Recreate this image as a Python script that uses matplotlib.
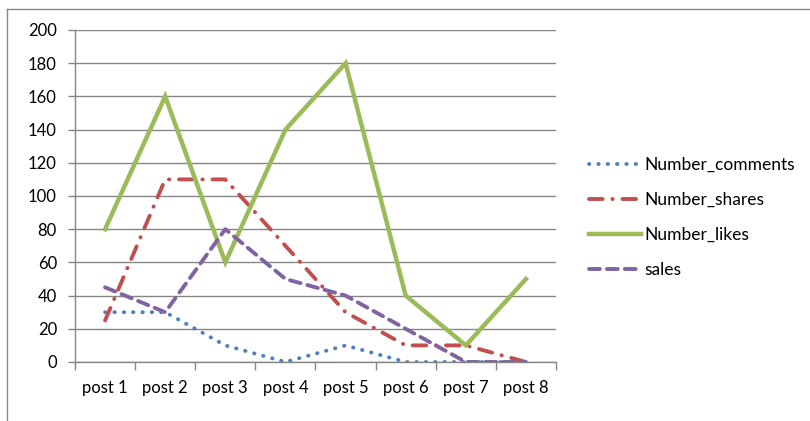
import matplotlib.pyplot as plt
from matplotlib.lines import Line2D
import numpy as np

posts = ['post 1', 'post 2', 'post 3', 'post 4', 'post 5', 'post 6', 'post 7', 'post 8']
number_comments = [30, 30, 10, 0, 10, 0, 0, 0]
number_shares = [25, 110, 110, 70, 30, 10, 10, 0]
number_likes = [80, 160, 60, 140, 180, 40, 10, 50]
sales = [45, 30, 80, 50, 40, 20, 0, 0]
y_ticks = list(range(0, 201, 20))

plt.rcParams['font.family'] = ['Lato', 'DejaVu Sans']

fig = plt.figure(figsize=(8.1, 4.21), dpi=100)
ax = fig.add_axes([75 / 810, 59 / 421, 481 / 810, 332 / 421])

x = np.arange(1, len(posts) + 1)
lw = 2.8
ax.plot(x, number_comments, color='#4F81BD', lw=lw, linestyle=(0, (0.1, 2.3)),
        dash_capstyle='round', label='Number_comments', zorder=3)
ax.plot(x, number_shares, color='#C0504D', lw=lw, linestyle=(0, (3.5, 2.5, 0.1, 2.5)),
        dash_capstyle='round', label='Number_shares', zorder=3)
ax.plot(x, number_likes, color='#9BBB59', lw=lw + 0.4, solid_joinstyle='miter',
        label='Number_likes', zorder=3)
ax.plot(x, sales, color='#8064A2', lw=lw, linestyle=(0, (2.8, 1.8)),
        dash_capstyle='round', label='sales', zorder=3)

ax.set_xlim(0.5, len(posts) + 0.5)
ax.set_ylim(0, 200)
ax.set_yticks(y_ticks)
ax.set_xticks(np.arange(0.5, len(posts) + 1, 1))
ax.set_xticklabels([])
ax.set_xticks(x, minor=True)
ax.set_xticklabels(posts, minor=True)
ax.tick_params(axis='x', which='major', length=6, width=1, color='#868686', direction='out')
ax.tick_params(axis='x', which='minor', length=0, pad=13, labelsize=12)
ax.tick_params(axis='y', length=5, width=1, color='#868686', direction='out', pad=8, labelsize=12)

ax.grid(axis='y', color='#868686', lw=1)
ax.set_axisbelow(True)
for side in ['top', 'right']:
    ax.spines[side].set_visible(False)
for side in ['left', 'bottom']:
    ax.spines[side].set_color('#868686')
    ax.spines[side].set_linewidth(1)

leg = fig.legend(loc='upper left', bbox_to_anchor=(573 / 810, 1 - 141 / 421), frameon=False,
                 fontsize=12.5, handlelength=3.0, labelspacing=1.1, handletextpad=0.2)

# chart area border (top and left edges)
fig.add_artist(Line2D([7 / 810, 1], [1 - 9 / 421, 1 - 9 / 421], color='#868686', lw=1))
fig.add_artist(Line2D([7 / 810, 7 / 810], [0, 1 - 9 / 421], color='#868686', lw=1))

fig.savefig('out.png', dpi=100)
